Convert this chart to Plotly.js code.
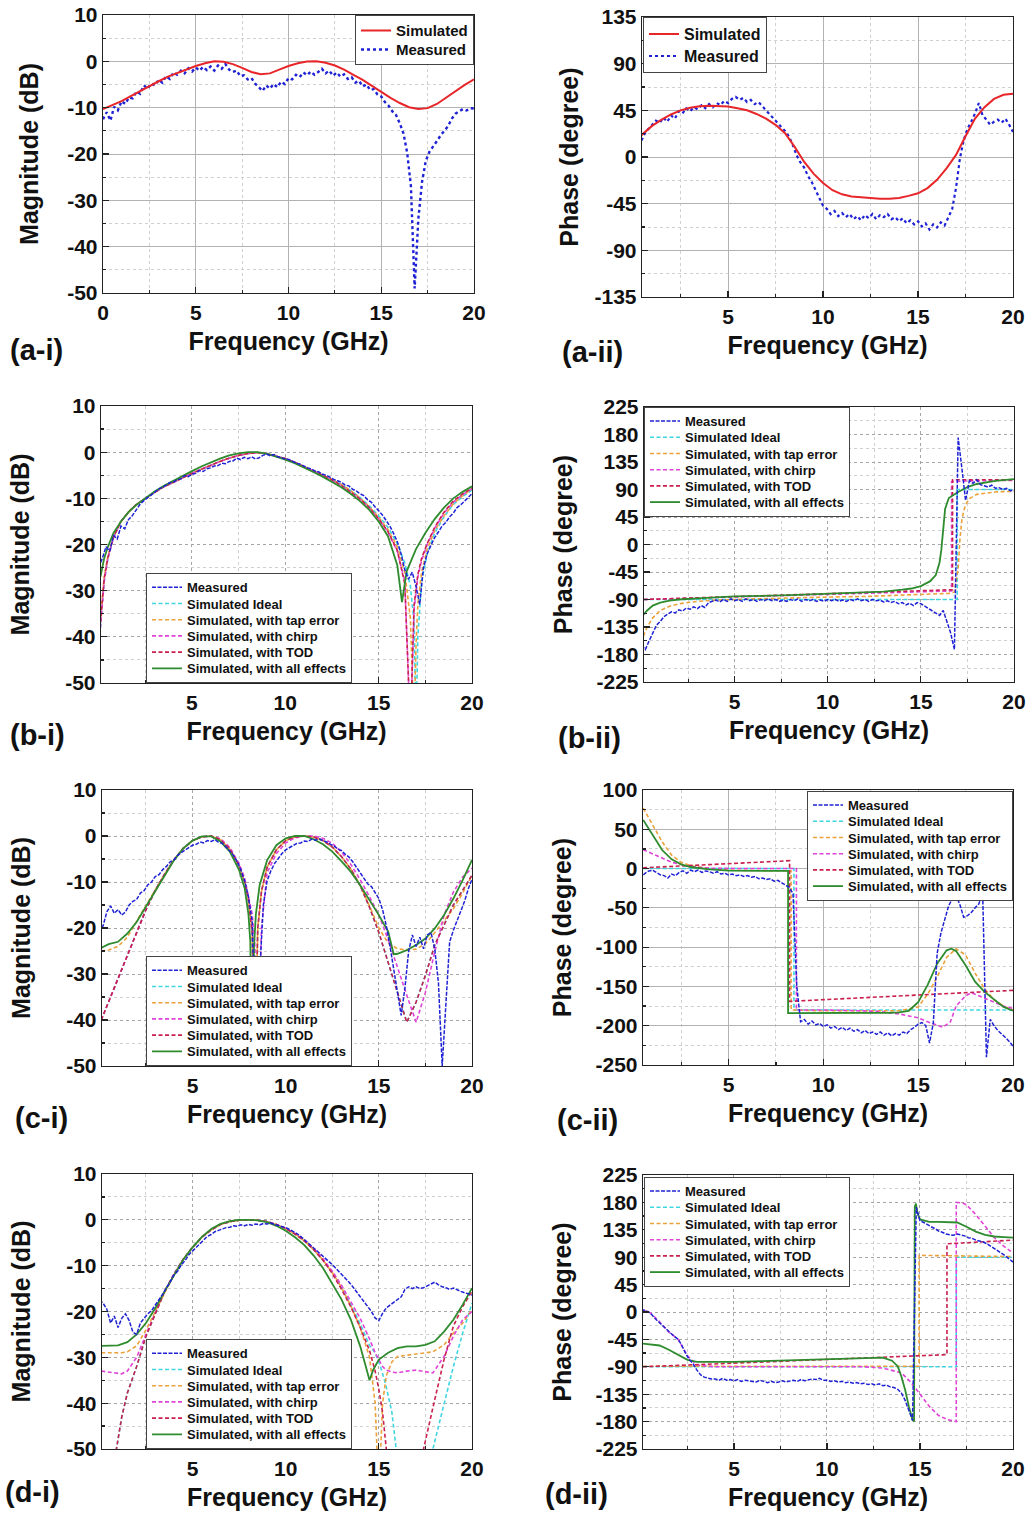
<!DOCTYPE html>
<html>
<head>
<meta charset="utf-8">
<script src="https://cdn.plot.ly/plotly-3.0.1.min.js"></script>
<style>html,body{margin:0;padding:0;background:#fff;}#chart{width:1028px;height:1515px;}</style>
</head>
<body>
<div id="chart"></div>
<script>
// ---------- shared frequency grids (GHz) ----------
const F = [0,0.2,0.4,0.6,0.8,1,1.2,1.4,1.6,1.8,2,2.2,2.4,2.6,2.8,3,3.2,3.4,3.6,3.8,4,4.2,4.4,4.6,4.8,5,5.2,5.4,5.6,5.8,6,6.2,6.4,6.6,6.8,7,7.2,7.4,7.6,7.8,8,8.2,8.4,8.6,8.8,9,9.2,9.4,9.6,9.8,10,10.2,10.4,10.6,10.8,11,11.2,11.4,11.6,11.8,12,12.2,12.4,12.6,12.8,13,13.2,13.4,13.6,13.8,14,14.2,14.4,14.6,14.8,15,15.2,15.4,15.6,15.8,16,16.2,16.4,16.6,16.8,17,17.2,17.4,17.6,17.8,18,18.2,18.4,18.6,18.8,19,19.2,19.4,19.6,19.8,20];
const G = [0,0.5,1,1.5,2,2.5,3,3.5,4,4.5,5,5.5,6,6.5,7,7.5,8,8.5,9,9.5,10,10.5,11,11.5,12,12.5,13,13.5,14,14.5,15,15.5,16,16.5,17,17.5,18,18.5,19,19.5,20];

// ---------- tick labels ----------
const xTickVals = [0,5,10,15,20];
const xTickText = ['0','5','10','15','20'];
const magTickVals = [-50,-40,-30,-20,-10,0,10];
const magTickText = ['-50','-40','-30','-20','-10','0','10'];
const ph135Vals = [-135,-90,-45,0,45,90,135];
const ph135Text = ['-135','-90','-45','0','45','90','135'];
const ph225Vals = [-225,-180,-135,-90,-45,0,45,90,135,180,225];
const ph225Text = ['-225','-180','-135','-90','-45','0','45','90','135','180','225'];
const ph250Vals = [-250,-200,-150,-100,-50,0,50,100];
const ph250Text = ['-250','-200','-150','-100','-50','0','50','100'];

// ---------- (a-i) magnitude ----------
const aiSim = [-10.3,-9.4,-8.6,-7.5,-6.4,-5.3,-4.3,-3.3,-2.5,-1.7,-1.0,-0.4,0,-0.1,-0.6,-1.4,-2.3,-2.8,-2.6,-1.8,-1.0,-0.4,-0.05,0,-0.3,-0.9,-1.8,-2.9,-4.0,-5.3,-6.6,-7.9,-9.0,-9.9,-10.3,-10.1,-9.2,-7.8,-6.4,-5.1,-3.9];
const aiMeas = [
 -12.5,-11.0,-12.8,-9.8,-10.6,-8.6,-9.2,-7.8,-8.0,-6.5,
 -7.0,-5.2,-5.9,-4.8,-5.2,-4.0,-4.6,-3.2,-3.8,-2.4,
 -2.9,-2.0,-2.6,-1.5,-2.2,-1.3,-2.0,-1.2,-1.9,-1.1,
 -2.0,-0.9,-1.6,-0.6,-1.8,-2.3,-2.0,-3.2,-3.0,-3.9,
 -3.6,-4.8,-5.6,-6.4,-5.2,-5.9,-4.9,-5.6,-4.4,-4.9,
 -3.6,-3.9,-2.9,-3.4,-2.4,-3.0,-2.2,-2.9,-2.3,-1.6,
 -2.6,-2.0,-3.1,-2.4,-3.3,-2.8,-3.8,-3.4,-4.6,-4.2,
 -5.4,-5.0,-6.2,-6.0,-7.2,-7.6,-8.8,-9.6,-10.8,-11.6,
 -13.4,-15.6,-19.8,-27.0,-49.0,-34.0,-26.0,-21.5,-19.5,-18.2,
 -17.2,-16.0,-15.0,-14.0,-12.4,-11.3,-10.8,-10.3,-10.6,-10.1,
 -10.2];

// ---------- (a-ii) phase ----------
const aiiSim = [12,22,30,36,41,45,47.5,49,49.5,49.3,48.6,47,45,41.5,37,31,23,10,-4.5,-16,-25,-32,-36,-38,-39,-40,-40.3,-40.3,-39.5,-37.5,-35,-30,-22,-11,2,20,37,48,56,60,61];
const aiiMeas = [
 8,10,14,22,27,31,35,33,38,34,
 40,37,44,42,47,44,48,46,50,47,
 51,48,52,50,54,52,56,58,55,57,
 53,55,51,53,49,46,42,38,34,30,
 25,20,12,2,-5,-10,-18,-24,-32,-40,
 -47,-50,-55,-52,-57,-54,-58,-55,-60,-57,
 -61,-56,-59,-55,-60,-56,-58,-55,-60,-58,
 -62,-59,-64,-61,-65,-62,-67,-64,-70,-65,
 -68,-63,-66,-58,-50,-30,-2,16,27,34,
 42,52,40,36,31,34,36,33,37,31,
 24];

// ---------- (b-i) magnitude ----------
const bX = [0.1,0.3,0.5,0.8,1.2,1.6,2,2.5,3,3.5,4,4.5,5,5.5,6,6.5,7,7.5,8,8.5,9,9.5,10,10.5,11,11.5,12,12.5,13,13.5,14,14.5,15,15.5,16,16.4,16.7,16.9,17,17.1,17.3,17.6,18,18.5,19,19.5,20];
const biIdeal = [-38,-28,-23,-18.5,-15,-13,-11.4,-10,-8.7,-7.5,-6.5,-5.5,-4.6,-3.7,-2.8,-2.0,-1.3,-0.7,-0.3,-0.1,-0.3,-0.8,-1.4,-2.2,-3.1,-4.0,-4.9,-5.9,-7.0,-8.3,-9.8,-11.6,-13.8,-16.3,-19.8,-24,-29,-37,-60,-40,-28,-22,-17.5,-14,-11.3,-9.6,-8.2];
const biTap = [-36,-27,-22.5,-18.3,-15,-13,-11.4,-10,-8.7,-7.5,-6.5,-5.5,-4.6,-3.7,-2.8,-2.0,-1.3,-0.7,-0.3,-0.1,-0.3,-0.8,-1.4,-2.2,-3.1,-4.0,-4.9,-5.9,-7.0,-8.3,-9.9,-11.8,-14.1,-16.8,-20.5,-26,-36,-60,-42,-33,-26,-21,-17,-13.8,-11.2,-9.4,-8.0];
const biChirp = [-38,-28,-23,-18.5,-15,-13,-11.4,-10,-8.7,-7.5,-6.5,-5.5,-4.6,-3.7,-2.8,-2.0,-1.3,-0.7,-0.3,-0.1,-0.3,-0.8,-1.4,-2.2,-3.1,-4.0,-5.0,-6.1,-7.3,-8.7,-10.2,-12.1,-14.5,-17.3,-21.5,-28,-60,-34,-30,-27,-23.5,-20,-16.5,-13.2,-10.8,-9.2,-7.9];
const biTOD = [-37,-27.5,-22.8,-18.4,-15,-13,-11.4,-10,-8.7,-7.5,-6.5,-5.5,-4.6,-3.7,-2.8,-2.0,-1.3,-0.7,-0.3,-0.1,-0.3,-0.8,-1.4,-2.2,-3.1,-4.0,-5.0,-6.0,-7.2,-8.6,-10.1,-12.0,-14.4,-17.2,-21.3,-28.5,-60,-33,-29,-26.5,-23,-19.8,-16.3,-13.0,-10.6,-9.0,-7.8];
const bgX = [0.1,0.3,0.5,0.8,1.2,1.6,2,2.5,3,3.5,4,4.5,5,5.5,6,6.5,7,7.5,8,8.5,9,9.5,10,10.5,11,11.5,12,12.5,13,13.5,14,14.5,15,15.5,16,16.25,16.5,17,17.5,18,18.5,19,19.5,20];
const biAll = [-27,-23,-20.5,-17.5,-15,-13,-11.5,-9.9,-8.5,-7.3,-6.2,-5.1,-4.1,-3.1,-2.2,-1.4,-0.7,-0.25,0,0,-0.3,-0.9,-1.6,-2.4,-3.3,-4.3,-5.3,-6.4,-7.6,-9.0,-10.6,-12.5,-15.0,-18.2,-24.5,-32.5,-25.8,-21,-17.5,-14.5,-12,-10,-8.6,-7.4];
const biMeas = [
 -25,-23,-20.5,-21.5,-18,-18.8,-16,-16.6,-14.6,-13.8,
 -12.6,-11.4,-10.6,-10.0,-9.2,-8.7,-8.0,-7.6,-7.2,-6.6,
 -6.5,-6.0,-5.8,-5.1,-5.3,-4.8,-4.6,-4.0,-4.2,-3.6,
 -3.4,-3.0,-2.9,-2.4,-2.5,-2.0,-1.9,-1.3,-1.6,-1.1,
 -1.4,-1.0,-1.5,-1.2,-0.7,-0.4,-0.8,-0.5,-1.0,-1.2,
 -1.5,-1.6,-2.0,-2.4,-2.6,-3.0,-3.4,-3.6,-4.1,-4.3,
 -4.8,-5.0,-5.5,-5.9,-6.2,-6.5,-7.1,-7.3,-8.0,-8.4,
 -9.0,-9.4,-10.3,-10.8,-11.8,-12.6,-13.6,-14.8,-16.0,-17.6,
 -19.4,-22.0,-25.5,-27.5,-26.0,-29.0,-33.0,-25.0,-22.0,-20.2,
 -18.5,-17.3,-16.0,-15.2,-14.0,-13.2,-12.0,-11.4,-10.6,-9.8,
 -9.0];

// ---------- (b-ii) phase ----------
const biiIdealX = [0.1,16.95,16.95,20];
const biiIdeal = [-90,-90,90,90];
const biiTapX = [0.1,0.3,0.6,1,1.5,2,3,4,6,8,10,12,14,15,16,16.5,16.8,17,17.1,17.2,17.3,17.4,17.6,18,19,20];
const biiTap = [-150,-135,-120,-108,-101,-97,-93,-91,-89,-87,-86,-85,-83,-82,-81,-80,-78,-40,10,40,55,65,75,82,86,87];
const biiChirpX = [0.1,16.65,16.65,17.5,20];
const biiChirp = [-90,-76,103,104,105];
const biiTODX = [0.1,16.7,16.7,20];
const biiTOD = [-90,-74,106,106];
const biiAllX = [0.1,0.3,0.6,1,1.5,2,3,5,8,10,12,13,14,14.5,15,15.5,15.8,16,16.1,16.2,16.3,16.5,17,17.5,18,19,20];
const biiAll = [-115,-108,-100,-95,-92,-90,-88,-85,-83,-81,-79,-77,-74,-72,-68,-60,-50,-30,-8,28,58,76,86,94,99,104,107];
const biiMeas = [
 -165,-172,-158,-145,-132,-126,-118,-114,-110,-112,
 -107,-109,-104,-106,-102,-105,-100,-103,-95,-93,
 -91,-94,-90,-93,-89,-92,-90,-93,-89,-92,
 -90,-93,-90,-92,-89,-92,-90,-93,-91,-93,
 -90,-92,-89,-93,-90,-92,-90,-93,-91,-93,
 -90,-92,-90,-93,-91,-93,-90,-92,-89,-92,
 -90,-93,-90,-92,-91,-94,-92,-95,-93,-97,
 -95,-99,-96,-100,-95,-97,-101,-104,-108,-112,
 -116,-108,-125,-145,-172,175,125,72,104,100,
 106,98,96,94,97,92,93,90,92,88,
 89];

// ---------- (c-i) magnitude ----------
const cX = [0.1,0.5,1,1.5,2,2.5,3,3.5,4,4.5,5,5.5,6,6.5,7,7.5,7.8,8.0,8.2,8.35,8.5,8.7,9,9.5,10,10.5,11,11.5,12,12.5,13,13.5,14,14.5,15,15.5,16,16.5,17,17.5,18,18.5,19,19.5,20];
const ciTOD = [-40,-36,-31,-26.3,-20.9,-16,-11.8,-8.3,-5.2,-2.7,-1.0,-0.2,0,-0.8,-2.8,-6.5,-10,-14,-21,-50,-20,-12,-6.8,-3,-1,-0.2,0,-0.2,-1,-2.4,-4.5,-7.2,-10.8,-15.5,-21,-27.4,-33.9,-40.5,-36.1,-30.3,-23.7,-19.4,-15,-11.8,-8.5];
const ciIdeal = [-40,-36,-31,-26.3,-20.9,-16,-11.8,-8.3,-5.2,-2.7,-1.0,-0.2,0,-0.8,-2.8,-6.5,-10,-14,-21,-50,-20,-12,-6.8,-3,-1,-0.2,0,-0.2,-1,-2.4,-4.5,-7.2,-10.8,-15.5,-21,-27.4,-33.9,-40.5,-36.1,-30.3,-23.7,-19.4,-15,-11.8,-8.5];
const ciTap = [-25,-24.8,-24,-22,-18.5,-15,-11.5,-8.3,-5.2,-2.7,-1.0,-0.2,0,-0.8,-2.8,-6.5,-10,-14,-21,-50,-20,-12,-6.8,-3,-1,-0.2,0,-0.2,-1,-2.4,-4.5,-7.2,-10.8,-15.2,-20,-23.3,-24.5,-24.8,-24.6,-23.4,-21,-18.5,-15.8,-12.4,-8.5];
const ciChirp = [-40,-36,-31,-26.3,-20.9,-16,-11.8,-8.3,-5.2,-2.7,-1.0,-0.2,0,-0.6,-2.5,-6.0,-9.2,-12.8,-17,-24,-50,-20,-8,-3.8,-1.5,-0.4,0,0,-0.5,-1.6,-3.5,-6.2,-9.5,-13.2,-17.2,-22.5,-28.8,-34.6,-40.5,-34,-25.2,-17.2,-12.2,-8.9,-7.0];
const cgX = [0.1,0.5,1,1.5,2,2.5,3,3.5,4,4.5,5,5.5,6,6.5,7,7.5,7.8,8.0,8.1,8.2,8.3,8.4,8.6,9,9.5,10,10.5,11,11.5,12,12.5,13,13.5,14,14.5,15,15.5,15.8,16,16.5,17,17.5,18,18.5,19,19.5,20];
const ciAll = [-24.3,-23.5,-23,-21.2,-18.7,-15.4,-11.8,-8.5,-5.3,-2.7,-1.0,-0.1,-0.1,-1.2,-3.4,-7.4,-11.4,-17,-23,-50,-24,-17,-10.7,-5.3,-2,-0.5,0,0,-0.7,-1.8,-3.4,-5.5,-7.8,-10.7,-13.8,-17.2,-20.8,-25.7,-25.6,-24.8,-23.7,-22.3,-20.1,-17.2,-13.6,-9.6,-5.2];
const ciMeas = [
 -21,-19.5,-16.5,-15.2,-16.8,-16.0,-17.2,-16.5,-15.0,-14.2,
 -13.8,-12.4,-11.9,-10.6,-10.0,-8.8,-8.4,-7.3,-6.6,-5.6,
 -5.2,-4.2,-3.6,-3.0,-2.4,-2.0,-1.8,-1.3,-1.5,-1.0,
 -1.2,-0.8,-1.4,-1.6,-2.4,-3.2,-4.2,-5.6,-7.4,-9.8,
 -13.2,-18.5,-45,-30,-15,-9.8,-7.6,-6.0,-4.8,-3.8,
 -3.0,-2.5,-2.1,-1.6,-1.5,-1.1,-1.2,-0.7,-0.9,-0.6,
 -1.0,-1.3,-1.8,-2.2,-2.8,-3.2,-4.0,-4.6,-5.6,-6.8,
 -8.0,-9.2,-10.4,-11.0,-12.4,-13.6,-16.0,-19.5,-24,-29,
 -35,-39,-33,-25,-21.5,-24,-22,-24.5,-21.5,-21,
 -24.5,-32,-50,-36,-23,-20.5,-18.5,-16.2,-14.2,-11.5,
 -9.4];

// ---------- (c-ii) phase ----------
const ciiAllX = [0.5,1,1.5,2,2.5,3,4,5,6,7,8.14,8.14,10,12,13.5,14,14.5,15,15.5,16,16.5,16.75,17,17.5,18,18.5,19,19.5,20];
const ciiAll = [62,43,23.6,11.7,5.3,2,-1,-2.7,-3,-3,-3,-184,-184,-184,-183.5,-183,-181,-170,-148,-121,-104,-102,-105,-123,-144,-157,-167,-176,-181];
const ciiTapX = [0.5,1,1.5,2,2.5,3,4,5,6,7,8.3,8.3,10,14,15,15.5,16,16.5,17,17.5,18,18.5,19,19.5,20];
const ciiTap = [77,55,34,17,8,3.6,0,-2,-2.5,-3,-3,-180,-181,-181,-176,-160,-138,-113,-102,-110,-133,-153,-167,-175,-180];
const ciiTODX = [0.5,8.22,8.22,20];
const ciiTOD = [1,10,-169,-155];
const ciiIdealX = [0.5,8.45,8.45,20];
const ciiIdeal = [0,0,-180,-180];
const ciiChirpX = [0.5,1,1.5,2,3,4,6,8.58,8.58,10,12,13,14,15,15.5,16,16.3,16.7,17,17.5,17.8,18.5,19,19.5,20];
const ciiChirp = [24,19,13,8,2.4,0.5,0,0,-180,-180,-181,-182,-185,-190,-195,-200,-202,-195,-175,-162,-158,-165,-170,-175,-178];
const ciiMeas = [
 -8,-10,-11,-6,-3,-2,-5,-8,-9,-12,
 -7,-9,-5,-3,-6,-2,-4,-2,-5,-3,
 -4,-6,-4,-7,-6,-8,-7,-9,-8,-10,
 -9,-11,-10,-13,-12,-14,-13,-16,-15,-18,
 -20,-24,-32,-150,-195,-192,-198,-194,-199,-197,
 -201,-199,-203,-201,-205,-202,-206,-203,-207,-205,
 -209,-206,-210,-208,-211,-208,-212,-209,-213,-210,
 -212,-208,-210,-205,-202,-198,-196,-200,-222,-196,
 -108,-82,-65,-48,-38,-34,-46,-62,-60,-56,
 -50,-45,-30,-240,-192,-200,-206,-210,-215,-220,
 -226];

// ---------- (d-i) magnitude ----------
const dX = [0.1,0.5,0.9,1.2,1.5,2,2.5,3,3.5,4,4.5,5,5.5,6,6.5,7,7.5,8,8.5,9,9.5,10,10.5,11,11.5,12,12.5,13,13.5,14,14.5,14.8,15,15.2,15.4,15.7,16,16.5,17,17.4,17.9,18.5,19,19.5,20];
const diIdeal = [-70,-60,-50,-43,-37.8,-32,-25.4,-20.3,-15.6,-11.8,-8.6,-6,-3.8,-2.2,-1.0,-0.4,-0.1,0,-0.1,-0.4,-1.0,-1.9,-3.1,-4.6,-6.5,-8.8,-11.5,-14.8,-18.5,-22.7,-27.4,-29,-31,-33.5,-36.5,-42,-51,-70,-70,-65,-50,-40,-32,-24.7,-18.2];
const diTap = [-29,-29,-29,-29,-28.8,-27.5,-24,-20,-15.8,-12,-8.6,-6,-3.8,-2.2,-1.0,-0.4,-0.1,0,-0.1,-0.4,-1.0,-1.9,-3.1,-4.6,-6.5,-8.8,-11.5,-14.8,-18.8,-23.5,-30,-40,-60,-40,-34,-31,-29.8,-29.5,-29.3,-29.1,-28.8,-27.3,-24.7,-22.5,-19.6];
const diChirp = [-33,-33.2,-33.5,-33.6,-33,-30,-25,-20.3,-15.6,-11.8,-8.6,-6,-3.8,-2.2,-1.0,-0.4,-0.1,0,-0.1,-0.4,-1.0,-1.9,-3.0,-4.4,-6.2,-8.5,-11.2,-14.3,-17.8,-21.5,-26,-29,-30.5,-32,-32.8,-33.2,-33.4,-33,-32.8,-33,-33.4,-29.8,-25.4,-21.8,-20];
const diTOD = [-70,-60,-50,-43,-37.8,-32,-25.4,-20.3,-15.6,-12,-8.6,-6,-3.8,-2.2,-1.0,-0.4,-0.1,0,-0.1,-0.4,-1.0,-1.9,-3.1,-4.6,-6.5,-8.8,-11.7,-15.2,-19,-23.5,-28.5,-33,-37,-42,-50,-70,-75,-80,-70,-50,-41,-30.5,-23.2,-18.9,-15.6];
const dgX = [0.1,0.5,1,1.5,2,2.5,3,3.5,4,4.5,5,5.5,6,6.5,7,7.5,8,8.5,9,9.5,10,10.5,11,11.5,12,12.5,13,13.5,14,14.3,14.5,14.7,15,15.5,16,16.5,17,17.5,18,18.5,19,19.5,20];
const diAll = [-27.5,-27.5,-27.4,-26.7,-25,-22.5,-19.3,-15.6,-12,-8.7,-6,-3.7,-2,-0.9,-0.3,0,0,-0.1,-0.5,-1.3,-2.4,-3.8,-5.5,-7.8,-10.5,-13.8,-17.4,-21.8,-27.6,-32,-35,-32.7,-30.5,-29,-28,-27.6,-27.6,-27.3,-26.5,-24.4,-21.8,-18.5,-14.9];
const diMeas = [
 -17.5,-18.2,-19.5,-22.5,-21.0,-23.5,-21.5,-20.5,-22.0,-24.5,
 -25.0,-22.5,-21.5,-20.5,-19.8,-18.6,-17.5,-16.2,-14.8,-13.6,
 -12.0,-11.2,-9.8,-8.9,-7.6,-6.8,-5.8,-5.0,-4.3,-3.6,
 -3.2,-2.6,-2.3,-2.0,-1.7,-1.6,-1.3,-1.4,-1.1,-1.3,
 -1.0,-1.2,-0.9,-1.1,-0.8,-0.9,-0.7,-1.0,-1.2,-1.5,
 -1.7,-2.1,-2.5,-3.0,-3.6,-4.3,-5.0,-5.7,-6.4,-7.2,
 -8.0,-8.7,-9.4,-10.2,-11.0,-11.8,-12.6,-13.6,-14.6,-15.7,
 -16.8,-17.8,-18.8,-20.0,-21.4,-22.0,-20.4,-19.2,-18.6,-18.0,
 -17.6,-16.8,-15.2,-14.6,-15.0,-14.6,-15.0,-14.8,-14.4,-14.0,
 -13.6,-14.2,-14.6,-14.8,-15.2,-14.9,-15.3,-15.6,-15.9,-16.2,
 -16.4];

// ---------- (d-ii) phase ----------
const diiIdealX = [0.1,16.95,16.95,20];
const diiIdeal = [-90,-90,90,90];
const diiTapX = [0.1,14.95,14.95,20];
const diiTap = [-89,-89,93,91];
const diiTODX = [0.1,16.45,16.45,20];
const diiTOD = [-90,-70,112,118];
const diiChirpX = [0.1,0.5,1,1.5,2,2.5,3,4,8,12,13,14,14.5,15,15.5,16,16.5,16.95,16.95,17.3,17.5,18,18.5,19,19.5,20];
const diiChirp = [3,-1,-16,-33,-45,-72,-87,-90,-90,-90,-92,-100,-115,-135,-155,-170,-177,-180,180,179,176,160,140,122,108,97];
const diiAllX = [0.1,1,1.5,2,2.5,3,4,5,6,7,8,9,10,11,12,12.5,13,13.5,13.8,14,14.2,14.4,14.6,14.68,14.72,14.78,14.87,15,15.5,16,16.5,17,17.5,18,18.5,19,19.5,20];
const diiAll = [-52,-55,-62,-70,-78.5,-82,-82.5,-82,-81,-80,-79,-78,-77,-76,-75,-74.5,-75,-80,-89,-105.8,-127.6,-155,-177,-180,173,178,162,152,148,148,148,147,140,132,126.6,124,123,122];
const diiMeas = [
 4,3,0,-5,-12,-18,-24,-30,-35,-40,
 -45,-55,-68,-78,-85,-95,-103,-107,-109,-110,
 -110,-112,-109,-112,-111,-113,-111,-114,-112,-113,
 -113,-115,-112,-114,-116,-114,-116,-115,-113,-115,
 -113,-112,-114,-111,-113,-112,-110,-111,-109,-112,
 -112,-114,-113,-115,-114,-116,-115,-117,-116,-118,
 -117,-119,-118,-120,-118,-121,-120,-123,-124,-127,
 -133,-145,-160,-178,172,150,147,143,140,137,
 133,131,128,127,126,128,127,125,122,121,
 118,117,115,112,108,105,101,97,92,87,
 82];

// ---------- labels ----------
const seriesNames = ['Measured','Simulated Ideal','Simulated, with tap error','Simulated, with chirp','Simulated, with TOD','Simulated, with all effects'];
const magTitle = 'Magnitude (dB)';
const phaseTitle = 'Phase (degree)';
const freqTitle = 'Frequency (GHz)';
const panelLabels = ['(a-i)','(a-ii)','(b-i)','(b-ii)','(c-i)','(c-ii)','(d-i)','(d-ii)'];

// ---------- styling ----------
const W = 1028, H = 1515;
const FONT = 'Liberation Sans, Arial, Helvetica, sans-serif';
const C = {meas:'#1f22d4', ideal:'#3fd6e0', tap:'#eba23c', chirp:'#e043d8', tod:'#c9204d', all:'#2e8b2e', red:'#e8262a'};
const px = v => v / W, py = v => 1 - v / H;

const P = [
 {box:[103,474,15,293],   xr:[0,20],    yr:[-50,10],   tv:magTickVals, tt:magTickText, ym:5,    yt:magTitle,   solid:true,  ys:21, lx:36,  ly:350},
 {box:[642,1013,17,297],  xr:[0.47,20], yr:[-135,135], tv:ph135Vals,   tt:ph135Text,   ym:22.5, yt:phaseTitle, solid:true,  ys:8,  lx:592, ly:352},
 {box:[101,472,406,683],  xr:[0.13,20], yr:[-50,10],   tv:magTickVals, tt:magTickText, ym:5,    yt:magTitle,   solid:false, ys:28, lx:37,  ly:735},
 {box:[644,1014,407,682], xr:[0.13,20], yr:[-225,225], tv:ph225Vals,   tt:ph225Text,   ym:22.5, yt:phaseTitle, solid:false, ys:16, lx:589, ly:738},
 {box:[102,472,790,1066], xr:[0.14,20], yr:[-50,10],   tv:magTickVals, tt:magTickText, ym:5,    yt:magTitle,   solid:false, ys:28, lx:41,  ly:1118},
 {box:[643,1013,790,1065],xr:[0.49,20], yr:[-250,100], tv:ph250Vals,   tt:ph250Text,   ym:25,   yt:phaseTitle, solid:true,  ys:16, lx:587, ly:1120},
 {box:[102,472,1174,1449],xr:[0.14,20], yr:[-50,10],   tv:magTickVals, tt:magTickText, ym:5,    yt:magTitle,   solid:false, ys:28, lx:32,  ly:1492},
 {box:[643,1013,1175,1449],xr:[0.11,20],yr:[-225,225], tv:ph225Vals,   tt:ph225Text,   ym:22.5, yt:phaseTitle, solid:false, ys:16, lx:576, ly:1494}
];

const layout = {
  width: W, height: H, margin:{l:0,r:0,t:0,b:0},
  paper_bgcolor:'#fff', plot_bgcolor:'#fff', showlegend:true,
  font:{family:FONT, color:'#111'}, annotations:[]
};

P.forEach((p, i) => {
  const n = i === 0 ? '' : String(i + 1);
  const gridc = p.solid ? '#b2b2b2' : '#a6a6a6';
  const common = {
    showline:true, mirror:true, linecolor:'#222', linewidth:1.3,
    ticks:'inside', ticklen:6, tickwidth:1.2, tickcolor:'#222',
    showgrid:true, gridcolor:gridc, gridwidth:1, griddash: p.solid ? 'solid' : 'dot',
    zeroline:false, automargin:false, fixedrange:true, tickmode:'array',
    tickfont:{family:FONT, size:21, weight:'bold', color:'#111'}
  };
  layout['xaxis' + n] = Object.assign({}, common, {
    domain:[px(p.box[0]), px(p.box[1])], anchor:'y' + n, range:p.xr,
    tickvals:xTickVals, ticktext:xTickText,
    minor:{tickmode:'linear', tick0:0, dtick:2.5, ticks:'inside', ticklen:3, tickcolor:'#222', showgrid:true, gridcolor:'#d0d0d0', griddash:'dot'},
    title:{text:freqTitle, standoff:10, font:{family:FONT, size:25, weight:'bold', color:'#111'}}
  });
  layout['yaxis' + n] = Object.assign({}, common, {
    domain:[py(p.box[3]), py(p.box[2])], anchor:'x' + n, range:p.yr,
    tickvals:p.tv, ticktext:p.tt,
    minor:{tickmode:'linear', tick0:0, dtick:p.ym, ticks:'inside', ticklen:3, tickcolor:'#222', showgrid:true, gridcolor:'#d0d0d0', griddash:'dot'},
    title:{text:p.yt, standoff:p.ys, font:{family:FONT, size:25, weight:'bold', color:'#111'}}
  });
  layout.annotations.push({
    text:panelLabels[i], xref:'paper', yref:'paper', x:px(p.lx), y:py(p.ly),
    xanchor:'center', yanchor:'middle', showarrow:false,
    font:{family:FONT, size:29, weight:'bold', color:'#111'}
  });
});

const legBase = {bgcolor:'#fff', bordercolor:'#444', borderwidth:1, tracegroupgap:0,
  itemwidth:30, font:{family:FONT, size:13, weight:'bold', color:'#111'}, itemclick:false, itemdoubleclick:false};
layout.legend  = Object.assign({}, legBase, {x:px(474), y:py(15),  xanchor:'right', yanchor:'top', font:{family:FONT,size:15,weight:'bold',color:'#111'}});
layout.legend2 = Object.assign({}, legBase, {x:px(643), y:py(17),  xanchor:'left',  yanchor:'top', font:{family:FONT,size:16,weight:'bold',color:'#111'}});
layout.legend3 = Object.assign({}, legBase, {x:px(146), y:py(683), xanchor:'left',  yanchor:'bottom'});
layout.legend4 = Object.assign({}, legBase, {x:px(644), y:py(407), xanchor:'left',  yanchor:'top'});
layout.legend5 = Object.assign({}, legBase, {x:px(146), y:py(1066),xanchor:'left',  yanchor:'bottom'});
layout.legend6 = Object.assign({}, legBase, {x:px(1013),y:py(791), xanchor:'right', yanchor:'top'});
layout.legend7 = Object.assign({}, legBase, {x:px(146), y:py(1449),xanchor:'left',  yanchor:'bottom'});
layout.legend8 = Object.assign({}, legBase, {x:px(644), y:py(1177),xanchor:'left',  yanchor:'top'});

const traces = [];
function ax(i){ const n = i === 0 ? '' : String(i + 1); return {xaxis:'x' + n, yaxis:'y' + n, legend:'legend' + n}; }
function line(i, name, x, y, color, dash, width, rank){
  traces.push(Object.assign({type:'scatter', mode:'lines', name:name, x:x, y:y,
    line:{color:color, dash:dash, width:width}, legendrank:rank, hoverinfo:'skip'}, ax(i)));
}
const SD = '4px,2.5px', MD = '4px,1.5px';

line(0, 'Measured', F, aiMeas, C.meas, 'dot', 2.4, 2);
line(0, 'Simulated', G, aiSim, C.red, 'solid', 2, 1);
line(1, 'Measured', F, aiiMeas, C.meas, 'dot', 2.2, 2);
line(1, 'Simulated', G, aiiSim, C.red, 'solid', 2, 1);

function six(i, d){
  line(i, seriesNames[1], d.ix, d.i, C.ideal, SD, 1.6, 2);
  line(i, seriesNames[2], d.tx, d.t, C.tap,   SD, 1.6, 3);
  line(i, seriesNames[3], d.cx, d.c, C.chirp, SD, 1.6, 4);
  line(i, seriesNames[4], d.dx, d.d, C.tod,   SD, 1.6, 5);
  line(i, seriesNames[5], d.ax, d.a, C.all,   'solid', 1.8, 6);
  line(i, seriesNames[0], F, d.m, C.meas, MD, 1.5, 1);
}
six(2, {ix:bX, i:biIdeal, tx:bX, t:biTap, cx:bX, c:biChirp, dx:bX, d:biTOD, ax:bgX, a:biAll, m:biMeas});
six(3, {ix:biiIdealX, i:biiIdeal, tx:biiTapX, t:biiTap, cx:biiChirpX, c:biiChirp, dx:biiTODX, d:biiTOD, ax:biiAllX, a:biiAll, m:biiMeas});
six(4, {ix:cX, i:ciIdeal, tx:cX, t:ciTap, cx:cX, c:ciChirp, dx:cX, d:ciTOD, ax:cgX, a:ciAll, m:ciMeas});
six(5, {ix:ciiIdealX, i:ciiIdeal, tx:ciiTapX, t:ciiTap, cx:ciiChirpX, c:ciiChirp, dx:ciiTODX, d:ciiTOD, ax:ciiAllX, a:ciiAll, m:ciiMeas});
six(6, {ix:dX, i:diIdeal, tx:dX, t:diTap, cx:dX, c:diChirp, dx:dX, d:diTOD, ax:dgX, a:diAll, m:diMeas});
six(7, {ix:diiIdealX, i:diiIdeal, tx:diiTapX, t:diiTap, cx:diiChirpX, c:diiChirp, dx:diiTODX, d:diiTOD, ax:diiAllX, a:diiAll, m:diiMeas});

// tighten legend row spacing to match the original's compact legend boxes
function compactLegends(gd){
  const spacing = {legend:19, legend2:22, legend3:16.2, legend4:16.2, legend5:16.2, legend6:16.2, legend7:16.2, legend8:16.2};
  const bottomAnchored = {legend3:true, legend5:true, legend7:true};
  const tr = el => { const m = /translate\(\s*([-\d.e]+)[ ,]+([-\d.e]+)/.exec(el.getAttribute('transform') || ''); return m ? [parseFloat(m[1]), parseFloat(m[2])] : null; };
  Object.keys(spacing).forEach(id => {
    try {
      const g = gd.querySelector('.infolayer g.' + id);
      if (!g) return;
      const items = Array.from(g.querySelectorAll('g.traces'));
      if (items.length < 2) return;
      const pos = items.map(tr);
      if (pos.some(p => !p)) return;
      const order = items.map((e, k) => k).sort((a, b) => pos[a][1] - pos[b][1]);
      const orig = pos[order[1]][1] - pos[order[0]][1];
      const s = spacing[id], d = orig - s;
      if (!(d > 0)) return;
      const y0 = pos[order[0]][1] - d / 2;
      order.forEach((idx, k) => items[idx].setAttribute('transform', 'translate(' + pos[idx][0] + ',' + (y0 + k * s) + ')'));
      const red = d * items.length;
      const bg = g.querySelector('rect.bg');
      if (bg) bg.setAttribute('height', parseFloat(bg.getAttribute('height')) - red);
      if (bottomAnchored[id]) { const p = tr(g); if (p) g.setAttribute('transform', 'translate(' + p[0] + ',' + (p[1] + red) + ')'); }
    } catch (e) {}
  });
}

Plotly.newPlot('chart', traces, layout, {displayModeBar:false, staticPlot:true}).then(gd => compactLegends(gd));
</script>
</body>
</html>
